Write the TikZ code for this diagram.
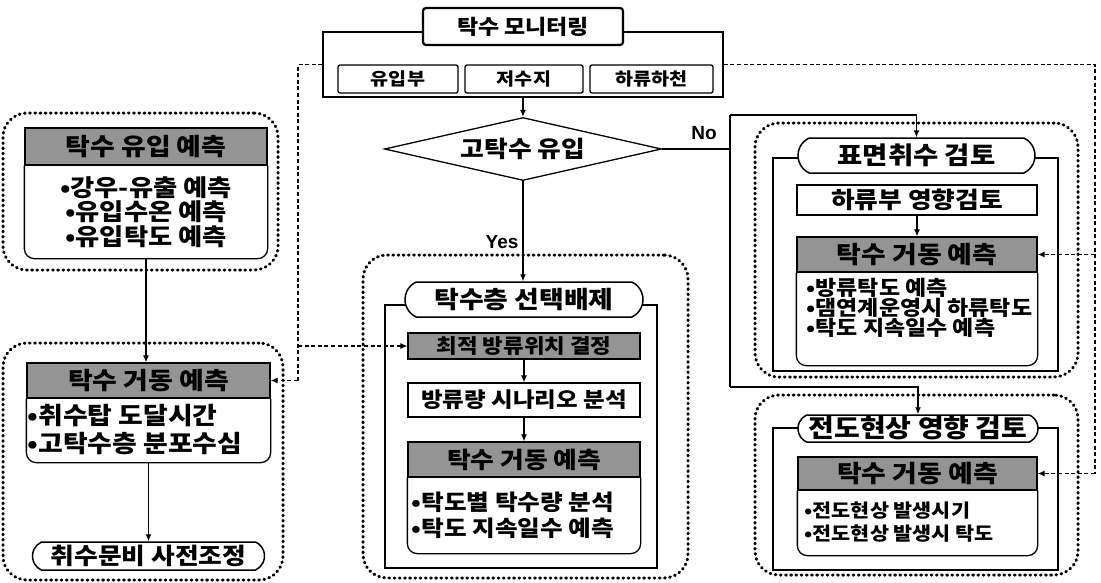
\documentclass[tikz,border=0pt]{standalone}
\usepackage{fontspec}
\setmainfont{Noto Sans CJK KR}[FakeStretch=1.12, BoldFont={Noto Sans CJK KR Black}]
\newfontfamily\latfont{Liberation Sans}
\usetikzlibrary{shapes.geometric,shapes.misc,arrows.meta}
\newcommand\fsz[2]{\fontsize{#1}{#2}\selectfont}
\begin{document}
\begin{tikzpicture}[x=1pt,y=-1pt,
  every node/.style={inner sep=0pt, font=\bfseries},
  box/.style={draw, line width=1.3pt},
  hdr/.style={draw, line width=1.3pt, fill=black!42},
  rr/.style={draw, line width=1.5pt, fill=white, rounded rectangle, rounded rectangle arc length=130},
  dotbox/.style={draw, line width=3pt, line cap=round, dash pattern=on 0.8pt off 4.4pt, rounded corners=24pt},
  ln/.style={line width=1.2pt},
  arr/.style={ln, -{Latex[length=7pt,width=6pt]}},
  dsh/.style={line width=1.1pt, dash pattern=on 4pt off 2.6pt},
  dsharr/.style={dsh, -{Latex[length=7pt,width=6pt]}},
  frame/.style={draw, line width=1.3pt, rounded corners=10pt},
  lbl/.style={font=\latfont\bfseries\fsz{19}{19}}
]
\fill[white] (0,0) rectangle (1101,582);
\useasboundingbox (0,0) rectangle (1101,582);

% ---------- monitoring ----------
\node[box, line width=1.4pt, minimum width=400, minimum height=65] (mon) at (523,64.5) {};
\node[box, fill=white, line width=2.2pt, rounded corners=3pt, minimum width=200, minimum height=37,
      font=\bfseries\fsz{20.5}{20.5}] (title) at (523,26.5) {탁수 모니터링};
\node[box, rounded corners=2pt, minimum width=120, minimum height=28, font=\bfseries\fsz{17.5}{17.5}] (inf) at (398,79) {유입부};
\node[box, rounded corners=2pt, minimum width=118, minimum height=28, font=\bfseries\fsz{17.5}{17.5}] (res) at (524,79) {저수지};
\node[box, rounded corners=2pt, minimum width=123, minimum height=28, font=\bfseries\fsz{17.5}{17.5}] (dns) at (651.5,79) {하류하천};

% ---------- decision ----------
\node[diamond, draw, line width=1.3pt, fill=white, aspect=4.4, minimum width=277, minimum height=63,
      font=\bfseries\fsz{23}{23}] (dia) at (523,149) {고탁수 유입};
\draw[arr] (mon.south) -- (dia.north);

% ---------- left group ----------
\node[dotbox, minimum width=275, minimum height=157] (gL1) at (140.5,191.5) {};
\node[hdr, minimum width=242, minimum height=37, font=\bfseries\fsz{24}{24}] (hL1) at (146,146.5) {탁수 유입 예측};
\draw[frame] (hL1.south west) -- ++(0,93) -| (hL1.south east);
\node[align=center, font=\bfseries\fsz{23.5}{24.5}] (cL1) at ([yshift=-46.5pt]hL1.south)
  {•강우-유출 예측\\•유입수온 예측\\•유입탁도 예측};

\node[dotbox, minimum width=280, minimum height=237] (gL2) at (143,461.5) {};
\node[hdr, minimum width=243, minimum height=35, font=\bfseries\fsz{24}{24}] (hL2) at (148.5,380.5) {탁수 거동 예측};
\draw[frame] (hL2.south west) -- ++(0,64) -| (hL2.south east);
\node[anchor=west, align=left, font=\bfseries\fsz{24}{28}] (cL2) at ([xshift=1pt,yshift=-31pt]hL2.south west)
  {•취수탑 도달시간\\•고탁수층 분포수심};
\coordinate (cL2b) at ([yshift=-64pt]hL2.south);
\node[rr, minimum width=232, minimum height=28, font=\bfseries\fsz{23}{23}] (eL) at (148.5,556) {취수문비 사전조정};

\draw[arr] ([yshift=-93pt]hL1.south) -- (hL1.south |- hL2.north);
\draw[arr] (cL2b) -- (eL.north);

% ---------- centre group ----------
\node[dotbox, minimum width=325, minimum height=323] (gC) at (525.5,416.5) {};
\node[box, minimum width=272, minimum height=263] (iC) at (521,436.5) {};
\node[rr, minimum width=238, minimum height=35, font=\bfseries\fsz{24}{24}] (eC) at (524,299.5) {탁수층 선택배제};
\node[hdr, minimum width=232, minimum height=26, font=\bfseries\fsz{20}{20}] (opt) at (524,346) {최적 방류위치 결정};
\node[box, minimum width=232, minimum height=34, font=\bfseries\fsz{21}{21}] (scen) at (524,400) {방류량 시나리오 분석};
\node[hdr, minimum width=232, minimum height=35, font=\bfseries\fsz{23}{23}] (hC) at (524,459.5) {탁수 거동 예측};
\draw[frame] (hC.south west) -- ++(0,76) -| (hC.south east);
\node[anchor=west, align=left, font=\bfseries\fsz{22}{26}] (cC) at ([xshift=4pt,yshift=-38pt]hC.south west)
  {•탁도별 탁수량 분석\\•탁도 지속일수 예측};
\draw[arr] (opt.south) -- (scen.north);
\draw[arr] (scen.south) -- (hC.north);

\draw[arr] (dia.south) -- (dia.south |- eC.north);
\node[lbl] (yes) at (502,242) {Yes};

% ---------- right group 1 ----------
\node[dotbox, minimum width=323, minimum height=254] (gR1) at (916.5,250) {};
\node[box, minimum width=285, minimum height=213] (iR1) at (915.5,264.5) {};
\node[rr, minimum width=237, minimum height=35, font=\bfseries\fsz{24.5}{24.5}] (eR1) at (916.5,155.5) {표면취수 검토};
\node[box, minimum width=240, minimum height=30, font=\bfseries\fsz{23}{23}] (dR) at (917,200) {하류부 영향검토};
\node[hdr, minimum width=240, minimum height=35, font=\bfseries\fsz{24}{24}] (hR1) at (917,254.5) {탁수 거동 예측};
\draw[frame] (hR1.south west) -- ++(0,93) -| (hR1.south east);
\node[anchor=west, align=left, font=\bfseries\fsz{20.5}{20}] (cR1) at ([xshift=10pt,yshift=-35.5pt]hR1.south west)
  {•방류탁도 예측\\•댐연계운영시 하류탁도\\•탁도 지속일수 예측};
\draw[arr] (dR.south) -- (hR1.north);

% ---------- right group 2 ----------
\node[dotbox, minimum width=323, minimum height=180] (gR2) at (916.5,485) {};
\node[box, minimum width=285, minimum height=142] (iR2) at (915.5,499) {};
\node[rr, minimum width=240, minimum height=27, font=\bfseries\fsz{25}{25}] (eR2) at (918,428.5) {전도현상 영향 검토};
\node[hdr, minimum width=239, minimum height=33, font=\bfseries\fsz{24}{24}] (hR2) at (917.5,473.5) {탁수 거동 예측};
\draw[frame] (hR2.south west) -- ++(0,65) -| (hR2.south east);
\node[anchor=west, align=left, font=\bfseries\fsz{18.5}{23}] (cR2) at ([xshift=7pt,yshift=-31.5pt]hR2.south west)
  {•전도현상 발생시기\\•전도현상 발생시 탁도};

% ---------- No branch ----------
\coordinate (nA) at (730,115);
\coordinate (nB) at (730,387);
\draw[ln] (dia.east) -- (dia.east -| nA);
\draw[ln] (nA) -- (nB);
\draw[arr] (nA) -| (eR1.north);
\draw[arr] (nB) -| (eR2.north);
\node[lbl] (no) at (704,133) {No};

% ---------- dashed feedback lines ----------
\coordinate (lA) at (298,64.5);
\coordinate (lB) at (298,380.5);
\draw[dsh] (mon.west) -- (lA) -- (lB);
\draw[dsharr] (lB) -- (hL2.east);
\draw[dsharr] (lA |- opt.west) -- (opt.west);

\coordinate (rA) at (1095,64.5);
\coordinate (rB) at (1095,473.5);
\draw[dsh] (mon.east) -- (rA) -- (rB);
\draw[dsharr] (rB) -- (hR2.east);
\draw[dsharr] (rA |- hR1.east) -- (hR1.east);
\end{tikzpicture}
\end{document}
